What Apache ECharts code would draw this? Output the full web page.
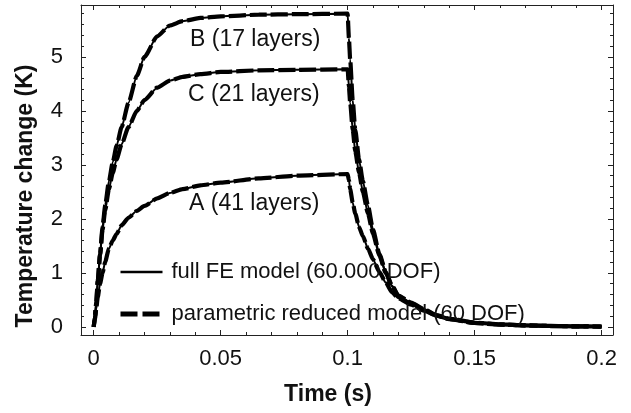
<!DOCTYPE html>
<html>
<head>
<meta charset="utf-8">
<script src="https://cdn.jsdelivr.net/npm/echarts@6/dist/echarts.min.js"></script>
<style>
  html, body { margin: 0; padding: 0; background: #fff; }
  #chart { width: 631px; height: 413px; }
</style>
</head>
<body>
<div id="chart"></div>
<script>
// time samples (s), shared by all three layer configurations
var time = [0, 0.0005, 0.001, 0.0016, 0.0025, 0.0035, 0.0045, 0.006, 0.0075, 0.009, 0.011,
  0.0137, 0.017, 0.02, 0.025, 0.03, 0.035, 0.042, 0.05, 0.065, 0.08,
  0.1, 0.1005, 0.101, 0.102, 0.103, 0.1045, 0.106, 0.108, 0.11, 0.1125, 0.115,
  0.1175, 0.12, 0.125, 0.13, 0.135, 0.14, 0.15, 0.16, 0.17, 0.18, 0.19, 0.2];

// temperature change (K)
var layerB = [0, 0.2, 0.45, 0.85, 1.35, 1.85, 2.25, 2.7, 3.05, 3.35, 3.7,
  4.15, 4.65, 5.0, 5.38, 5.58, 5.66, 5.72, 5.75, 5.78, 5.79,
  5.8, 5.35, 4.95, 4.2, 3.65, 3.1, 2.7, 2.25, 1.8, 1.35, 1.02,
  0.76, 0.58, 0.45, 0.33, 0.22, 0.15, 0.075, 0.045, 0.028, 0.017, 0.01, 0.006];
var layerC = [0, 0.2, 0.45, 0.85, 1.33, 1.8, 2.15, 2.55, 2.85, 3.1, 3.38,
  3.7, 4.0, 4.2, 4.43, 4.56, 4.63, 4.68, 4.72, 4.75, 4.76,
  4.77, 4.45, 4.15, 3.65, 3.25, 2.85, 2.5, 2.1, 1.72, 1.32, 1.0,
  0.75, 0.57, 0.44, 0.32, 0.21, 0.145, 0.072, 0.043, 0.027, 0.016, 0.01, 0.006];
var layerA = [0, 0.15, 0.33, 0.55, 0.8, 1.0, 1.2, 1.45, 1.6, 1.72, 1.88,
  2.02, 2.15, 2.24, 2.38, 2.48, 2.55, 2.62, 2.67, 2.75, 2.8,
  2.83, 2.72, 2.55, 2.3, 2.1, 1.85, 1.68, 1.45, 1.25, 1.02, 0.82,
  0.64, 0.53, 0.41, 0.3, 0.21, 0.15, 0.08, 0.047, 0.029, 0.018, 0.011, 0.007];

var xMajor = [0, 0.05, 0.1, 0.15, 0.2];
var xMinor = [0.01, 0.02, 0.03, 0.04, 0.06, 0.07, 0.08, 0.09, 0.11, 0.12, 0.13, 0.14,
  0.16, 0.17, 0.18, 0.19];
var yMajor = [0, 1, 2, 3, 4, 5];
var yMinor = [0.2, 0.4, 0.6, 0.8, 1.2, 1.4, 1.6, 1.8, 2.2, 2.4, 2.6, 2.8, 3.2, 3.4, 3.6, 3.8,
  4.2, 4.4, 4.6, 4.8, 5.2, 5.4, 5.6, 5.8];

var curveLabels = ['B (17 layers)', 'C (21 layers)', 'A (41 layers)'];
var nameFull = 'full FE model (60.000 DOF)';
var nameReduced = 'parametric reduced model (60 DOF)';

var FONT = '"Liberation Sans", Arial, sans-serif';
var INK = '#111';

function pairs(vals) {
  return time.map(function (t, i) { return [t, vals[i]]; });
}

function xAxisOf(pos, ticks, len, labels, line) {
  return {
    type: 'value', position: pos, min: -0.005, max: 0.2045,
    splitLine: { show: false },
    axisLine: { show: line, onZero: false, lineStyle: { color: '#222', width: 1 } },
    axisTick: { show: true, inside: true, length: len, customValues: ticks,
      lineStyle: { color: '#222', width: 1 } },
    axisLabel: labels ? { show: true, customValues: xMajor, margin: 13,
      fontSize: 22, color: INK, fontFamily: FONT } : { show: false }
  };
}
function yAxisOf(pos, ticks, len, labels, line) {
  return {
    type: 'value', position: pos, min: -0.15, max: 5.96,
    splitLine: { show: false },
    axisLine: { show: line, onZero: false, lineStyle: { color: '#222', width: 1 } },
    axisTick: { show: true, inside: true, length: len, customValues: ticks,
      lineStyle: { color: '#222', width: 1 } },
    axisLabel: labels ? { show: true, customValues: yMajor, margin: 18,
      fontSize: 22, color: INK, fontFamily: FONT } : { show: false }
  };
}

var layers = [layerB, layerC, layerA];
var series = [];
layers.forEach(function (vals) {
  series.push({
    name: nameReduced, type: 'line', xAxisIndex: 0, yAxisIndex: 0,
    showSymbol: false, symbol: 'none', data: pairs(vals), z: 2,
    smooth: 0.2, smoothMonotone: 'x',
    itemStyle: { color: '#000' },
    lineStyle: { color: '#000', width: 4.2, type: [17, 4] }
  });
});
layers.forEach(function (vals) {
  series.push({
    name: nameFull, type: 'line', xAxisIndex: 0, yAxisIndex: 0,
    showSymbol: false, symbol: 'none', data: pairs(vals), z: 3,
    smooth: 0.2, smoothMonotone: 'x',
    itemStyle: { color: '#000' },
    lineStyle: { color: '#000', width: 2 }
  });
});

var labelPos = [[190, 41], [188, 96], [189, 205]];

var chart = echarts.init(document.getElementById('chart'), null, { renderer: 'canvas' });
chart.setOption({
  animation: false,
  backgroundColor: '#fff',
  grid: { left: 81, right: 18, top: 5, bottom: 78 },
  xAxis: [
    xAxisOf('bottom', xMajor, 5, true, true),
    xAxisOf('bottom', xMinor, 3, false, false),
    xAxisOf('top', xMajor, 5, false, true),
    xAxisOf('top', xMinor, 3, false, false)
  ],
  yAxis: [
    yAxisOf('left', yMajor, 5, true, true),
    yAxisOf('left', yMinor, 3, false, false),
    yAxisOf('right', yMajor, 5, false, true),
    yAxisOf('right', yMinor, 3, false, false)
  ],
  legend: {
    data: [
      { name: nameFull, lineStyle: { width: 2.5 } },
      { name: nameReduced, lineStyle: { width: 5, type: [17, 5] } }
    ],
    orient: 'vertical', left: 113, top: 255,
    itemWidth: 42, itemHeight: 14, itemGap: 18,
    itemStyle: { opacity: 0 },
    textStyle: { fontSize: 22, color: INK, fontFamily: FONT, lineHeight: 24,
      padding: [0, 0, 0, 4] }
  },
  graphic: curveLabels.map(function (txt, i) {
    return {
      type: 'text', left: labelPos[i][0], top: labelPos[i][1] - 13,
      style: { text: txt, fill: INK, font: '23px ' + FONT }
    };
  }).concat([
    {
      type: 'text', x: 328, y: 395,
      style: { text: 'Time (s)', fill: INK, font: 'bold 23px ' + FONT,
        textAlign: 'center', textVerticalAlign: 'middle' }
    },
    {
      type: 'text', x: 26, y: 196, rotation: Math.PI / 2,
      style: { text: 'Temperature change (K)', fill: INK, font: 'bold 23px ' + FONT,
        textAlign: 'center', textVerticalAlign: 'middle' }
    }
  ]),
  series: series
});
</script>
</body>
</html>
